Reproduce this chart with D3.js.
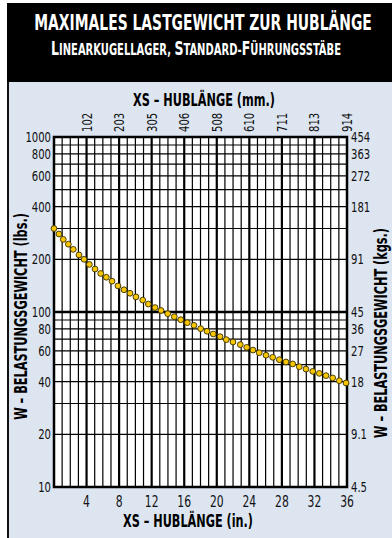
<!DOCTYPE html>
<html><head><meta charset="utf-8">
<script src="https://cdn.jsdelivr.net/npm/d3@7/dist/d3.min.js"></script>
<style>
html,body{margin:0;padding:0;background:#fff;}
svg{display:block;}
text{font-family:"Liberation Sans Narrow","DejaVu Sans Condensed","Arial Narrow",sans-serif;}
</style></head>
<body>
<svg id="c" width="392" height="538"></svg>
<script>
// ---- data ----
const strokeIn = [0,0.61,1.14,1.76,2.37,3.07,3.69,4.34,5.04,5.74,6.43,7.13,7.86,8.60,9.34,10.07,10.90,11.59,12.41,13.15,13.97,14.78,15.57,16.38,17.20,18.02,18.80,19.57,20.40,21.17,21.99,22.89,23.68,24.45,25.22,26.05,26.87,27.68,28.50,29.33,30.14,30.96,31.79,32.60,33.42,34.24,35.05,35.88];
const loadLbs = [300,279,260,244,228,212,200,187,176,166,158,150,141,134,128,122,117,111,106,102,97.8,94,90.4,86.9,83.9,80.3,77.6,74.9,72.3,69.5,67.4,65.1,62.8,60.6,58.5,56.6,55.1,53.4,51.8,50.5,48.7,47.2,45.8,44.6,43.3,42,40.5,39.3];
const lbsTicks = [10,20,40,60,80,100,200,400,600,800,1000];
const kgsLabels = ["4.5","9.1","18","27","36","45","91","181","272","363","454"];
const inTicks = [4,8,12,16,20,24,28,32,36];
const mmLabels = ["102","203","305","406","508","610","711","813","914"];
const title = "MAXIMALES LASTGEWICHT ZUR HUBLÄNGE";
const subtitle = [["L",1],["INEARKUGELLAGER, ",0],["S",1],["TANDARD-",0],["F",1],["ÜHRUNGSSTÄBE",0]];
const topTitle = "XS – HUBLÄNGE (mm.)";
const bottomTitle = "XS – HUBLÄNGE (in.)";
const leftTitle = "W – BELASTUNGSGEWICHT (lbs.)";
const rightTitle = "W – BELASTUNGSGEWICHT (kgs.)";

// ---- layout ----
const svg = d3.select("#c");
const L = 54, R = 347, T = 137, B = 487;
const x = d3.scaleLinear().domain([0,36]).range([L,R]);
const y = d3.scaleLog().domain([10,1000]).range([B,T]);

// text helper: places text at (px,py), optional rotation, squeezes horizontally
function label(parent, o){
  const t = parent.append("text")
    .attr("text-anchor", o.anchor || "start")
    .attr("font-size", o.size).attr("font-weight", o.weight || "normal")
    .attr("fill", o.fill || "#111");
  if (o.dy) t.attr("dy", o.dy);
  if (o.parts) o.parts.forEach(([s,big])=>t.append("tspan").attr("font-size", big?o.size:o.small).text(s));
  else t.text(o.text);
  let s = o.sx || 1;
  if (o.width) s = o.width / t.node().getComputedTextLength();
  t.attr("transform", `translate(${o.x},${o.y})` + (o.rot ? ` rotate(${o.rot})` : "") + ` scale(${s},1)`);
  return t;
}

// background panels
svg.append("rect").attr("x",7).attr("y",3).attr("width",385).attr("height",79).attr("fill","#000");
svg.append("rect").attr("x",8).attr("y",82).attr("width",384).attr("height",456).attr("fill","#dde5f1");
svg.append("line").attr("x1",8).attr("x2",8).attr("y1",82).attr("y2",538).attr("stroke","#111").attr("stroke-width",2);

// header text
label(svg,{x:203,y:29.5,anchor:"middle",size:22,weight:"bold",fill:"#fff",text:title,width:338});
label(svg,{x:196,y:55,anchor:"middle",size:19.5,small:15.5,weight:"bold",fill:"#fff",parts:subtitle,width:290});

// plot area
svg.append("rect").attr("x",L).attr("y",T).attr("width",R-L).attr("height",B-T).attr("fill","#fff");

// grid
const g = svg.append("g");
d3.range(1,36).forEach(i=>{
  g.append("line").attr("x1",x(i)).attr("x2",x(i)).attr("y1",T).attr("y2",B)
   .attr("stroke","#000").attr("stroke-width", i%4===0 ? 2.2 : 1.2);
});
y.ticks().forEach(v=>{
  if (v===10||v===1000) return;
  g.append("line").attr("x1",L).attr("x2",R).attr("y1",y(v)).attr("y2",y(v))
   .attr("stroke","#000").attr("stroke-width", v===100 ? 2.5 : 1.2);
});
svg.append("rect").attr("x",L).attr("y",T).attr("width",R-L).attr("height",B-T)
  .attr("fill","none").attr("stroke","#000").attr("stroke-width",2.5);

// axes labels
const fs = 14, sq = 0.8;
lbsTicks.forEach((v,i)=>{
  label(svg,{x:L-3,y:y(v),dy:"0.36em",anchor:"end",size:fs,sx:sq,text:String(v)});
  label(svg,{x:R+4,y:y(v),dy:"0.36em",anchor:"start",size:fs,sx:sq,text:kgsLabels[i]});
});
inTicks.forEach((v,i)=>{
  label(svg,{x:x(v),y:B+20,anchor:"middle",size:fs+1,sx:sq,text:String(v)});
  label(svg,{x:x(v)+5,y:T-5,rot:-90,anchor:"start",size:fs,sx:sq,text:mmLabels[i]});
});

// axis titles
label(svg,{x:204,y:105.5,anchor:"middle",size:17.5,weight:"bold",fill:"#000",text:topTitle,width:142});
label(svg,{x:188,y:526.5,anchor:"middle",size:18,weight:"bold",fill:"#000",text:bottomTitle,width:130});
label(svg,{x:26.5,y:316.5,rot:-90,anchor:"middle",size:17,weight:"bold",fill:"#000",text:leftTitle,width:207});
label(svg,{x:387,y:333,rot:-90,anchor:"middle",size:17,weight:"bold",fill:"#000",text:rightTitle,width:210});

// curve dots
svg.append("g").selectAll("circle").data(strokeIn).join("circle")
  .attr("cx",d=>x(d)).attr("cy",(d,i)=>y(loadLbs[i])).attr("r",2.9)
  .attr("fill","#f7c600").attr("stroke","#3a3000").attr("stroke-width",0.9);
</script>
</body></html>
